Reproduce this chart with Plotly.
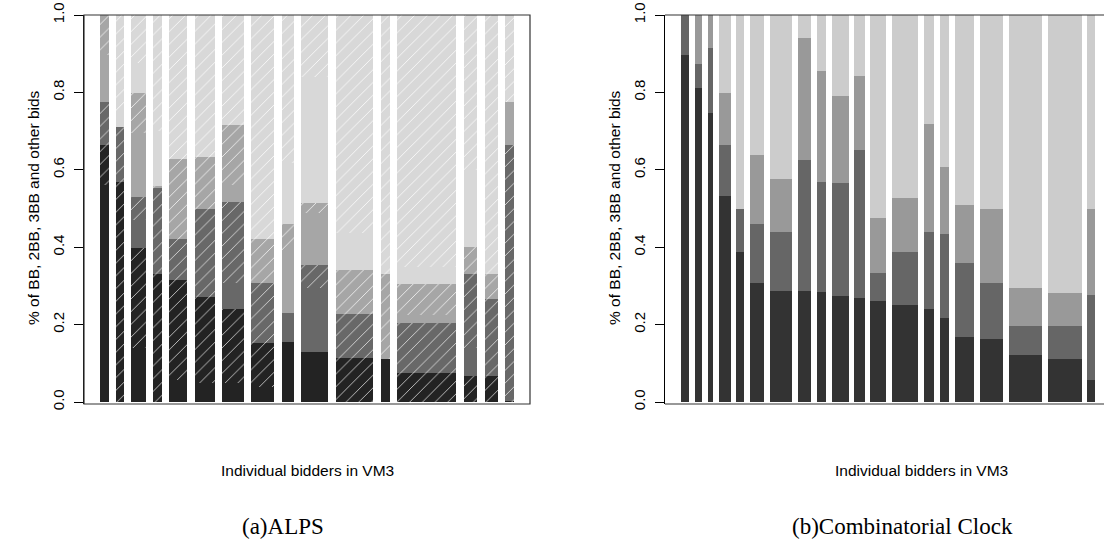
import plotly.graph_objects as go

W, H = 1104, 546

# ---------------- data: (a) ALPS ----------------
alps_width = [9, 7.3, 14.3, 9, 18, 19.7, 22, 22.7, 12.3, 26.7, 37.7, 9, 59, 13.3, 13.3, 8.7]
alps_bb  = [0.664, 0.569, 0.397, 0.332, 0.315, 0.272, 0.240, 0.153, 0.156, 0.130, 0.114, 0.110, 0.074, 0.067, 0.067, 0.003]
alps_2bb = [0.111, 0.142, 0.134, 0.220, 0.105, 0.227, 0.278, 0.154, 0.075, 0.224, 0.113, 0.000, 0.129, 0.265, 0.199, 0.661]
alps_3bb = [0.225, 0.000, 0.267, 0.005, 0.208, 0.135, 0.198, 0.115, 0.229, 0.161, 0.114, 0.222, 0.102, 0.068, 0.066, 0.111]
# hatched share (upper part) of each category
alps_bb_h    = [0.103, 0.569, 0.258, 0.332, 0.258, 0.222, 0.190, 0.113, 0.000, 0.000, 0.114, 0.000, 0.074, 0.067, 0.067, 0.003]
alps_2bb_h   = [0.111, 0.142, 0.061, 0.220, 0.105, 0.227, 0.211, 0.154, 0.000, 0.060, 0.113, 0.000, 0.129, 0.193, 0.199, 0.661]
alps_3bb_h   = [0.103, 0.000, 0.104, 0.005, 0.208, 0.135, 0.156, 0.115, 0.067, 0.027, 0.114, 0.222, 0.080, 0.068, 0.066, 0.000]
alps_other_h = [0.000, 0.250, 0.125, 0.300, 0.372, 0.366, 0.284, 0.578, 0.383, 0.160, 0.564, 0.668, 0.650, 0.400, 0.668, 0.225]

# ---------------- data: (b) Combinatorial Clock ----------------
cc_width = [8.3, 7, 5.3, 11.7, 7.7, 14.3, 22, 13.7, 9, 16.7, 10.3, 16, 26.3, 10, 9.3, 19.3, 23, 33.3, 33.7, 7.7]
cc_bb  = [0.897, 0.811, 0.748, 0.532, 0.388, 0.307, 0.288, 0.286, 0.284, 0.273, 0.270, 0.262, 0.251, 0.240, 0.218, 0.169, 0.162, 0.121, 0.110, 0.057]
cc_2bb = [0.103, 0.062, 0.166, 0.132, 0.110, 0.153, 0.151, 0.340, 0.285, 0.294, 0.381, 0.072, 0.137, 0.198, 0.216, 0.189, 0.145, 0.075, 0.086, 0.219]
cc_3bb = [0.000, 0.127, 0.086, 0.134, 0.000, 0.179, 0.136, 0.314, 0.286, 0.225, 0.191, 0.141, 0.138, 0.280, 0.174, 0.151, 0.192, 0.098, 0.086, 0.223]

categories = ["BB", "2BB", "3BB", "other bids"]
alps_colors = ["#232323", "#686868", "#a6a6a6", "#d8d8d8"]
cc_colors = ["#333333", "#666666", "#999999", "#cccccc"]

ALPS_GAP = 7.4
CC_GAP = 5.76
PAD = 16


def centers(widths, gap):
    out, pos = [], 0.0
    for w in widths:
        out.append(pos + w / 2)
        pos += w + gap
    return out, pos - gap


alps_x, alps_total = centers(alps_width, ALPS_GAP)
cc_x, cc_total = centers(cc_width, CC_GAP)

alps_other = [max(0.0, 1 - a - b - c) for a, b, c in zip(alps_bb, alps_2bb, alps_3bb)]
cc_other = [max(0.0, 1 - a - b - c) for a, b, c in zip(cc_bb, cc_2bb, cc_3bb)]

fig = go.Figure()

alps_cats = [alps_bb, alps_2bb, alps_3bb, alps_other]
alps_hat = [alps_bb_h, alps_2bb_h, alps_3bb_h, alps_other_h]
hatch_fg = ["#c8c8c8", "#d8d8d8", "#eeeeee", "#f8f8f8"]
for name, col, tot, hat, fg in zip(categories, alps_colors, alps_cats, alps_hat, hatch_fg):
    hat_c = [min(h, t) for h, t in zip(hat, tot)]
    plain = [t - h for t, h in zip(tot, hat_c)]
    fig.add_trace(go.Bar(x=alps_x, y=plain, width=alps_width, name=name,
                         marker=dict(color=col, line=dict(width=0)),
                         xaxis="x", yaxis="y", showlegend=False))
    fig.add_trace(go.Bar(x=alps_x, y=hat_c, width=alps_width, name=name + " (hatched)",
                         marker=dict(color=col, line=dict(width=0),
                                     pattern=dict(shape="/", fillmode="replace", bgcolor=col,
                                                  fgcolor=fg, size=9, solidity=0.1)),
                         xaxis="x", yaxis="y", showlegend=False))

for name, col, vals in zip(categories, cc_colors, [cc_bb, cc_2bb, cc_3bb, cc_other]):
    fig.add_trace(go.Bar(x=cc_x, y=vals, width=cc_width, name=name,
                         marker=dict(color=col, line=dict(width=0)),
                         xaxis="x2", yaxis="y2", showlegend=False))

px = lambda v: v / W
py = lambda v: 1 - v / H

left_dom = [px(84), px(530)]
right_dom = [px(665), 1.0]
ydom = [py(404), py(15)]
yr = [-2 / 387, 1.0]

tickvals = [0, 0.2, 0.4, 0.6, 0.8, 1.0]
ticktext = ["0.0", "0.2", "0.4", "0.6", "0.8", "1.0"]
tfont = dict(family="Liberation Sans, Arial, sans-serif", size=15, color="black")

yaxis_common = dict(range=yr, domain=ydom, tickvals=tickvals, ticktext=ticktext,
                    ticks="outside", ticklen=9, tickwidth=1, tickcolor="black",
                    showline=True, linecolor="black", linewidth=1,
                    tickangle=-90, tickfont=tfont, showgrid=False, zeroline=False,
                    ticklabelstandoff=4, automargin=False)
xaxis_common = dict(showticklabels=False, ticks="", showgrid=False, zeroline=False,
                    showline=False, automargin=False)

fig.update_layout(
    width=W, height=H, margin=dict(l=0, r=0, t=0, b=0, autoexpand=False),
    paper_bgcolor="white", plot_bgcolor="white",
    barmode="stack", bargap=0, showlegend=False,
    xaxis=dict(domain=left_dom, range=[-PAD, alps_total + PAD], anchor="y", **xaxis_common),
    yaxis=dict(anchor="x", **yaxis_common),
    xaxis2=dict(domain=right_dom, range=[-PAD, (1104 - 665) - PAD], anchor="y2", **xaxis_common),
    yaxis2=dict(anchor="x2", **yaxis_common),
)

lc = dict(color="#333333", width=1.2)
# box of panel (a)
fig.add_shape(type="rect", xref="x domain", yref="y domain", x0=0, x1=1, y0=0, y1=1, line=lc)
# box of panel (b) (cut at right edge)
fig.add_shape(type="line", xref="x2 domain", yref="y2 domain", x0=0, x1=1, y0=1, y1=1, line=lc)
fig.add_shape(type="line", xref="x2 domain", yref="y2 domain", x0=0, x1=1, y0=0, y1=0, line=lc)

afont = dict(family="Liberation Sans, Arial, sans-serif", size=15.5, color="black")
cfont = dict(family="Liberation Serif, DejaVu Serif, serif", size=23, color="black")
ylab = "% of BB, 2BB, 3BB and other bids"
xlab = "Individual bidders in VM3"
for xp, text in [(33, ylab), (614, ylab)]:
    fig.add_annotation(x=px(xp), y=py(208), xref="paper", yref="paper", text=text,
                       textangle=-90, showarrow=False, font=afont, xanchor="center", yanchor="middle")
for xp, text in [(307, xlab), (921, xlab)]:
    fig.add_annotation(x=px(xp), y=py(470), xref="paper", yref="paper", text=text,
                       showarrow=False, font=afont, xanchor="center", yanchor="middle")
for xp, text in [(283, "(a)ALPS"), (902, "(b)Combinatorial Clock")]:
    fig.add_annotation(x=px(xp), y=py(526), xref="paper", yref="paper", text=text,
                       showarrow=False, font=cfont, xanchor="center", yanchor="middle")

# remove the browser's default 8px body margin so the figure fills the window
fig.write_html("out.html",
               config={"displayModeBar": False, "staticPlot": True},
               post_script="document.body.style.margin='0';document.body.style.overflow='hidden';")
